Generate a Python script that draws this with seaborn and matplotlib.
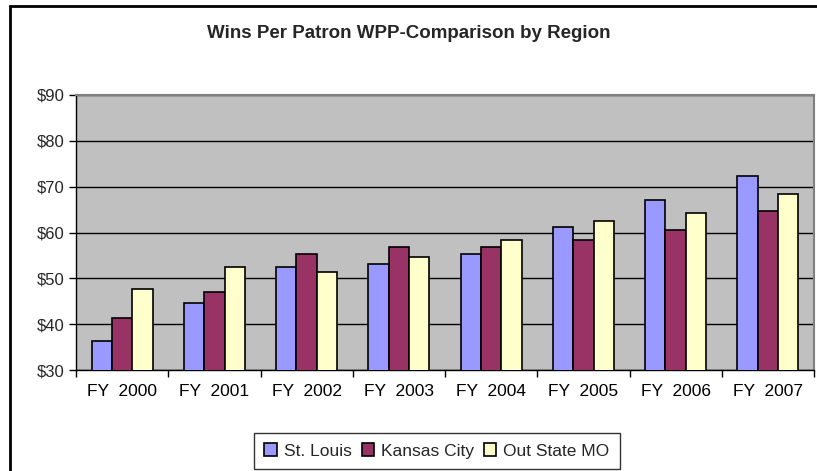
import seaborn as sns
import matplotlib.pyplot as plt
import pandas as pd
from matplotlib.patches import Rectangle
from matplotlib.ticker import FuncFormatter, FixedLocator

years = ["FY 2000", "FY 2001", "FY 2002", "FY 2003", "FY 2004", "FY 2005", "FY 2006", "FY 2007"]
st_louis = [36.3, 44.7, 52.5, 53.2, 55.4, 61.3, 67.2, 72.4]
kansas_city = [41.4, 47.0, 55.4, 56.9, 56.9, 58.4, 60.6, 64.6]
out_state = [47.7, 52.5, 51.3, 54.7, 58.4, 62.5, 64.3, 68.3]
regions = ["St. Louis", "Kansas City", "Out State MO"]
colors = ["#9999FF", "#993366", "#FFFFCC"]

df = pd.DataFrame({"year": years * 3,
                   "region": [regions[0]] * 8 + [regions[1]] * 8 + [regions[2]] * 8,
                   "wpp": st_louis + kansas_city + out_state})

sns.set_theme(style="white")
plt.rcParams["font.family"] = ["Liberation Sans", "DejaVu Sans"]

fig = plt.figure(figsize=(8.17, 4.71), dpi=100)
ax = fig.add_axes([76 / 817, 1 - 370 / 471, 738 / 817, 275 / 471])

sns.barplot(data=df, x="year", y="wpp", hue="region", palette=colors,
            width=0.66, gap=0, edgecolor="black", linewidth=1.2,
            saturation=1, ax=ax, zorder=3)

ax.set_facecolor("#C0C0C0")
ax.set_ylim(30, 90)
ax.set_xlim(-0.5, 7.5)
ax.set_yticks(range(30, 91, 10))
ax.yaxis.set_major_formatter(FuncFormatter(lambda v, p: f"${v:.0f}"))
ax.grid(axis="y", color="black", linewidth=1, zorder=0)
ax.set_axisbelow(True)
ax.set_xlabel("")
ax.set_ylabel("")
ax.set_xticks(range(len(years)))
ax.set_xticklabels([y.replace(" ", "  ") for y in years])

ax.xaxis.set_minor_locator(FixedLocator([i - 0.5 for i in range(9)]))
ax.tick_params(axis="x", which="major", length=0, pad=10, labelsize=12.5, colors="black")
ax.tick_params(axis="x", which="minor", length=5, width=1, color="black", bottom=True)
ax.tick_params(axis="y", length=5, width=1, color="black", left=True, labelsize=12, pad=3)

for side in ["left", "bottom"]:
    ax.spines[side].set_color("black")
    ax.spines[side].set_linewidth(1)
for side in ["top", "right"]:
    ax.spines[side].set_color("#808080")
    ax.spines[side].set_linewidth(1.5)

ax.legend_.remove()
handles, labels = ax.get_legend_handles_labels()
leg = fig.legend(handles, labels, loc="center", bbox_to_anchor=(437 / 817, 1 - 451 / 471),
                 ncol=3, frameon=True, fontsize=12.5, handlelength=0.7, handleheight=0.7,
                 handletextpad=0.4, columnspacing=0.6, borderpad=0.6, fancybox=False)
leg.get_frame().set_edgecolor("black")
leg.get_frame().set_linewidth(1)

fig.text(0.5, 1 - 33 / 471, "Wins Per Patron WPP-Comparison by Region",
         ha="center", va="center", fontsize=13.5, fontweight="bold")

fig.patches.append(Rectangle((10 / 817, -0.01), 1.02, 1 - 6 / 471 + 0.01, transform=fig.transFigure,
                             fill=False, edgecolor="black", linewidth=2))

fig.savefig("out.png", dpi=100)
